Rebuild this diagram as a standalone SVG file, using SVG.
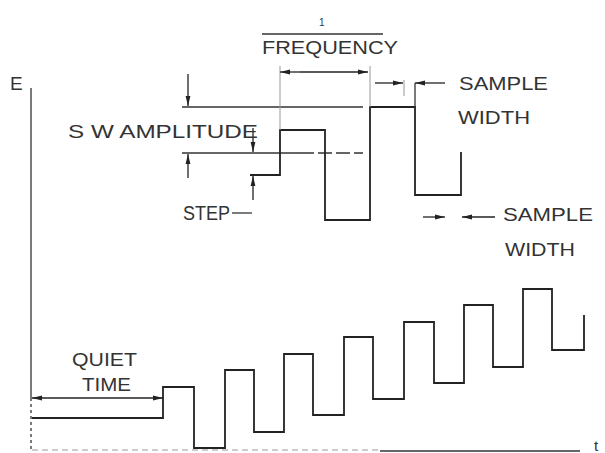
<svg xmlns="http://www.w3.org/2000/svg" width="605" height="453" viewBox="0 0 605 453">
<defs>
<marker id="ah" viewBox="0 0 10 6" refX="10" refY="3" markerWidth="10" markerHeight="6" markerUnits="userSpaceOnUse" orient="auto">
<path d="M0,0.6 L10,3 L0,5.4 z" fill="#222"/>
</marker>
<style>
.t{font-family:"Liberation Sans",Arial,sans-serif;font-size:19px;fill:#333;}
.w{fill:none;stroke:#222;stroke-width:1.8;stroke-linejoin:miter;}
.g{fill:none;stroke:#333;stroke-width:1.3;}
.f{fill:none;stroke:#999;stroke-width:1;}
.a{fill:none;stroke:#222;stroke-width:1.3;marker-end:url(#ah);}
</style>
</defs>
<rect width="605" height="453" fill="#fff"/>
<g id="axes">
<line class="g" x1="31" y1="88" x2="31" y2="398"/>
<line class="g" x1="31" y1="398" x2="31" y2="452" stroke-dasharray="3,3"/>
<line class="f" x1="32" y1="450" x2="380" y2="450" stroke-dasharray="6,4"/>
<line class="g" x1="380" y1="451" x2="580" y2="451"/>
<text class="t" x="10" y="90">E</text>
<text class="t" x="594" y="451" style="font-size:15px">t</text>
</g>
<g id="bottom-waveform">
<path class="w" d="M32,418 H163 V387 H194 V448 H225 V370 H254 V432 H284 V354 H313 V415 H344 V337 H373 V399 H404 V322 H434 V383 H464 V305 H493 V367 H523 V289 H552 V350 H584 V315"/>
</g>
<g id="top-waveform">
<line class="g" x1="182" y1="107" x2="363" y2="107"/>
<line class="g" x1="182" y1="153" x2="300" y2="153"/>
<line class="g" x1="300" y1="153" x2="363" y2="153" stroke-dasharray="14,4"/>
<path class="w" d="M250,175 H280 V130 H325 V220 H370 V107 H415 V195 H461 V152"/>
<line class="f" x1="280" y1="66" x2="280" y2="130"/>
<line class="f" x1="370" y1="66" x2="370" y2="107"/>
<line class="f" x1="404" y1="80" x2="404" y2="96"/>
<line class="g" x1="415" y1="83" x2="415" y2="107"/>
</g>
<g id="connectors">
<line class="a" x1="300" y1="72" x2="280" y2="72"/>
<line class="a" x1="300" y1="72" x2="368" y2="72"/>
<line class="a" x1="375" y1="83" x2="403" y2="83"/>
<line class="a" x1="445" y1="83" x2="415" y2="83"/>
<line class="a" x1="423" y1="217" x2="445" y2="217"/>
<line class="a" x1="495" y1="217" x2="462" y2="217"/>
<line class="a" x1="188" y1="74" x2="188" y2="106"/>
<line class="a" x1="188" y1="178" x2="188" y2="154"/>
<line class="a" x1="253" y1="128" x2="253" y2="152"/>
<line class="a" x1="253" y1="200" x2="253" y2="176"/>
<line class="g" x1="232" y1="213" x2="252" y2="213"/>
<line class="a" x1="100" y1="398" x2="32" y2="398"/>
<line class="a" x1="100" y1="398" x2="163" y2="398"/>
</g>
<g id="labels">
<line class="g" x1="262" y1="34" x2="383" y2="34"/>
<text class="t" x="319" y="26" style="font-size:10px">1</text>
<text class="t" x="262" y="54" textLength="136" lengthAdjust="spacingAndGlyphs">FREQUENCY</text>
<text class="t" x="459" y="90" textLength="89" lengthAdjust="spacingAndGlyphs">SAMPLE</text>
<text class="t" x="458" y="124" textLength="72" lengthAdjust="spacingAndGlyphs">WIDTH</text>
<text class="t" x="503" y="221" textLength="90" lengthAdjust="spacingAndGlyphs">SAMPLE</text>
<text class="t" x="505" y="256" textLength="70" lengthAdjust="spacingAndGlyphs">WIDTH</text>
<text class="t" x="68" y="138" textLength="190" lengthAdjust="spacingAndGlyphs">S W AMPLITUDE</text>
<text class="t" x="183" y="220" textLength="47" lengthAdjust="spacingAndGlyphs" style="font-size:20px">STEP</text>
<text class="t" x="72" y="366" textLength="65" lengthAdjust="spacingAndGlyphs">QUIET</text>
<text class="t" x="82" y="391" textLength="49" lengthAdjust="spacingAndGlyphs">TIME</text>
</g>
</svg>
